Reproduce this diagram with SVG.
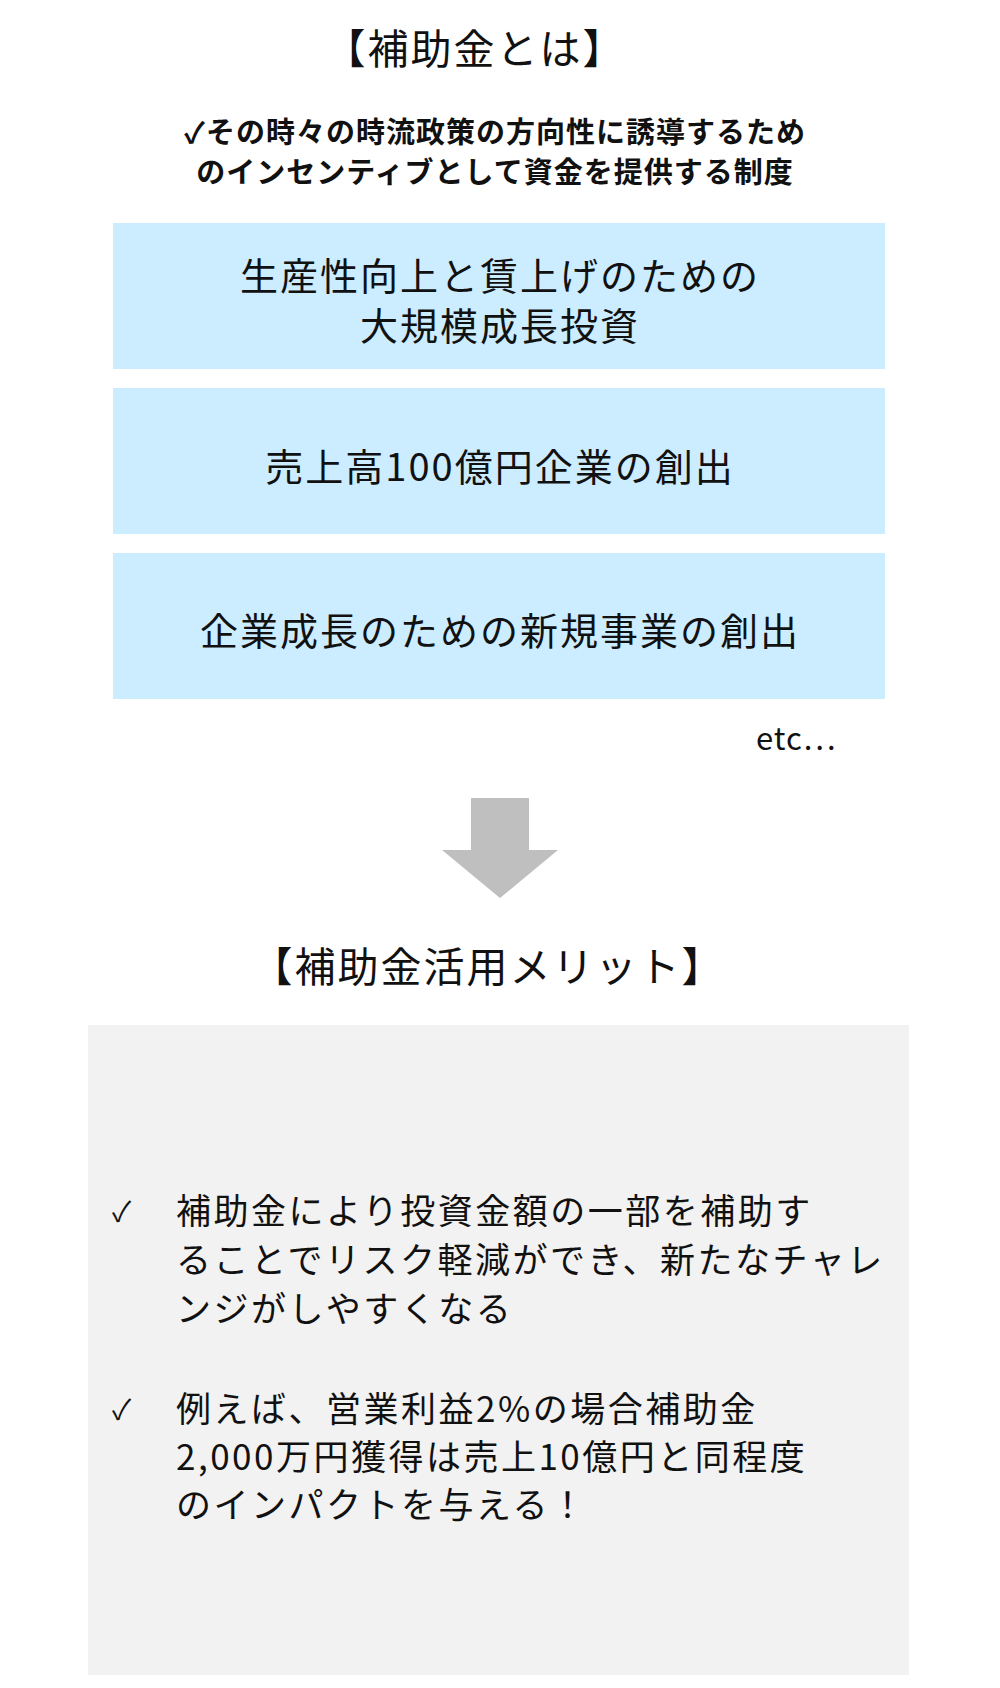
<svg xmlns="http://www.w3.org/2000/svg" width="1000" height="1688" viewBox="0 0 1000 1688">
<style>
text{font-family:"Noto Sans CJK JP","Noto Sans",sans-serif;fill:#111;}
.t{font-size:41px;text-anchor:middle;letter-spacing:2px;}
.s{font-size:29px;font-weight:bold;text-anchor:middle;letter-spacing:1px;}
.b{fill:#CCECFF;}
.bt{font-size:38px;text-anchor:middle;letter-spacing:2px;}
.g{font-size:35px;letter-spacing:2.5px;}
</style>
<rect width="1000" height="1688" fill="#fff"/>
<g id="title1"><text class="t" x="475" y="64">【補助金とは】</text></g>
<g id="subtitle"><text class="s" x="495" y="143">✓その時々の時流政策の方向性に誘導するため</text><text class="s" x="495" y="183">のインセンティブとして資金を提供する制度</text></g>
<g id="box1"><rect class="b" x="113" y="223" width="772" height="146"/><text class="bt" x="500" y="290">生産性向上と賃上げのための</text><text class="bt" x="500" y="340">大規模成長投資</text></g>
<g id="box2"><rect class="b" x="113" y="388" width="772" height="146"/><text class="bt" x="500" y="481">売上高100億円企業の創出</text></g>
<g id="box3"><rect class="b" x="113" y="553" width="772" height="146"/><text class="bt" x="500" y="645">企業成長のための新規事業の創出</text></g>
<g id="etc"><text x="756" y="750" style="font-size:31px;letter-spacing:1px">etc…</text></g>
<g id="connectors"><polygon points="471,798 529,798 529,850 558,850 500,898 442,850 471,850" fill="#BFBFBF"/></g>
<g id="title2"><text class="t" x="488" y="982">【補助金活用メリット】</text></g>
<g id="merits"><rect x="88" y="1025" width="821" height="650" fill="#F2F2F2"/>
<text x="112" y="1222" style="font-size:28px">✓</text>
<text class="g" x="176" y="1224">補助金により投資金額の一部を補助す</text>
<text class="g" x="176" y="1273">ることでリスク軽減ができ、新たなチャレ</text>
<text class="g" x="176" y="1322">ンジがしやすくなる</text>
<text x="112" y="1420" style="font-size:28px">✓</text>
<text class="g" x="176" y="1422">例えば、営業利益2%の場合補助金</text>
<text class="g" x="176" y="1470">2,000万円獲得は売上10億円と同程度</text>
<text class="g" x="176" y="1518">のインパクトを与える！</text>
</g>
</svg>
